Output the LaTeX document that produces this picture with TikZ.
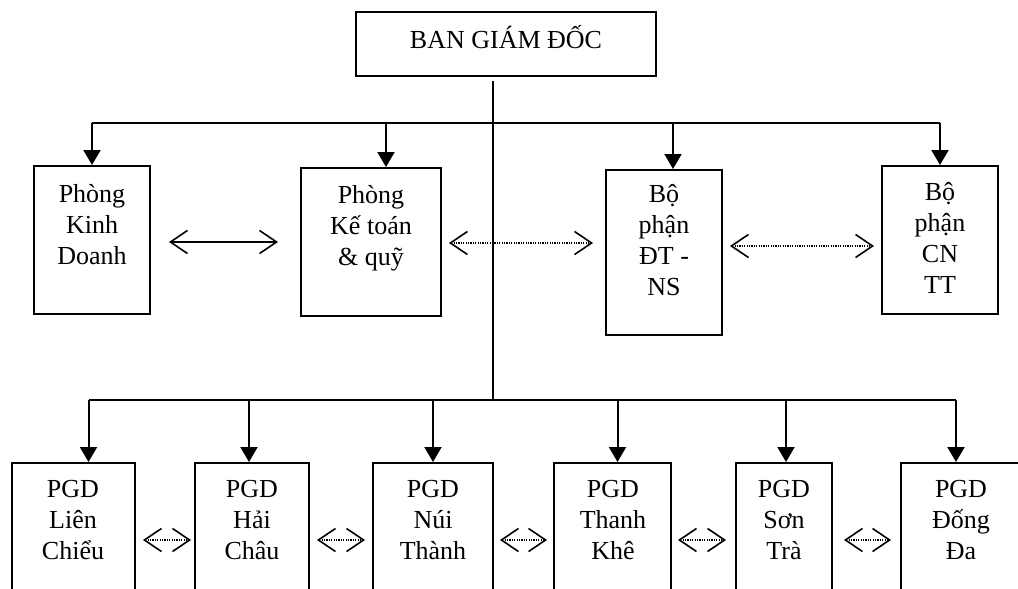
\documentclass[tikz,border=0pt]{standalone}
\usepackage{fontspec}
\setmainfont{Liberation Serif}
\usetikzlibrary{arrows.meta,fit}
\begin{document}
\begin{tikzpicture}[x=0.5pt,y=-0.5pt,
  box/.style={draw, line width=1pt, inner sep=0pt},
  txt/.style={inner sep=0pt, anchor=base, font={\fontsize{13pt}{15.5pt}\selectfont}},
  tree/.style={line width=1pt, -{Triangle[length=7.5pt,width=8.5pt]}},
  bus/.style={line width=1pt},
  link/.style={line width=0.8pt, {Straight Barb[length=8.5pt,width=11.5pt]}-{Straight Barb[length=8.5pt,width=11.5pt]}},
  dlink/.style={link, dash pattern=on 0.6pt off 0.6pt}]
\useasboundingbox (0,0) rectangle (1018,589);
\clip (0,0) rectangle (1018,589);
\fill[white] (0,0) rectangle (1018,589);
% top
\node[box, fit={(356,12)(656,76)}] (ban) {};
\node[txt] (bant) at (506,48) {BAN GIÁM ĐỐC};
% middle row
\node[box, fit={(34,166)(150,314)}] (kd) {};
\node[box, fit={(301,168)(441,316)}] (kt) {};
\node[box, fit={(606,170)(722,335)}] (dt) {};
\node[box, fit={(882,166)(998,314)}] (cn) {};
\node[txt] (kdt) at (92,202) {\parbox[t]{70pt}{\centering Phòng\\Kinh\\Doanh}};
\node[txt] (ktt) at (371,203) {\parbox[t]{70pt}{\centering Phòng\\Kế toán\\\& quỹ}};
\node[txt] (dtt) at (664,202) {\parbox[t]{60pt}{\centering Bộ\\phận\\ĐT -\\NS}};
\node[txt] (cnt) at (940,200) {\parbox[t]{60pt}{\centering Bộ\\phận\\CN\\TT}};
% bottom row
\node[box, fit={(12,463)(135,620)}] (lc) {};
\node[box, fit={(195,463)(309,620)}] (hc) {};
\node[box, fit={(373,463)(493,620)}] (nt) {};
\node[box, fit={(554,463)(671,620)}] (tk) {};
\node[box, fit={(736,463)(832,620)}] (st) {};
\node[box, fit={(901,463)(1021,620)}] (dd) {};
\node[txt] (lct) at (73,497) {\parbox[t]{60pt}{\centering PGD\\Liên\\Chiểu}};
\node[txt] (hct) at (252,497) {\parbox[t]{60pt}{\centering PGD\\Hải\\Châu}};
\node[txt] (ntt) at (433,497) {\parbox[t]{60pt}{\centering PGD\\Núi\\Thành}};
\node[txt] (tkt) at (613,497) {\parbox[t]{60pt}{\centering PGD\\Thanh\\Khê}};
\node[txt] (stt) at (784,497) {\parbox[t]{60pt}{\centering PGD\\Sơn\\Trà}};
\node[txt] (ddt) at (961,497) {\parbox[t]{60pt}{\centering PGD\\Đống\\Đa}};
% trunk and buses
\coordinate (t0) at (493,81);
\coordinate (b1) at (493,123);
\coordinate (b2) at (493,400);
\draw[bus] (t0) -- (b2);
\draw[bus] (kd.north |- b1) -- (cn.north |- b1);
\draw[tree] (kd.north |- b1) -- (kd.north);
\draw[tree] ([xshift=7.5pt]kt.north |- b1) -- ([xshift=7.5pt]kt.north);
\draw[tree] ([xshift=4.5pt]dt.north |- b1) -- ([xshift=4.5pt]dt.north);
\draw[tree] (cn.north |- b1) -- (cn.north);
\draw[bus] ([xshift=7.5pt]lc.north |- b2) -- ([xshift=-2.5pt]dd.north |- b2);
\draw[tree] ([xshift=7.5pt]lc.north |- b2) -- ([xshift=7.5pt]lc.north);
\draw[tree] ([xshift=-1.5pt]hc.north |- b2) -- ([xshift=-1.5pt]hc.north);
\draw[tree] (nt.north |- b2) -- (nt.north);
\draw[tree] ([xshift=2.5pt]tk.north |- b2) -- ([xshift=2.5pt]tk.north);
\draw[tree] ([xshift=1pt]st.north |- b2) -- ([xshift=1pt]st.north);
\draw[tree] ([xshift=-2.5pt]dd.north |- b2) -- ([xshift=-2.5pt]dd.north);
% middle links
\draw[link, shorten <=9pt, shorten >=11pt] ([yshift=-1pt]kd.east) -- ([yshift=-1pt]kd.east -| kt.west);
\draw[dlink, shorten <=3.5pt, shorten >=6pt] ([yshift=-0.5pt]kt.east) -- ([yshift=-0.5pt]kt.east -| dt.west);
\draw[dlink, shorten <=3.5pt, shorten >=3.5pt] ([yshift=3.25pt]dt.east) -- ([yshift=3.25pt]dt.east -| cn.west);
% bottom links
\draw[dlink, shorten <=3.5pt, shorten >=1.5pt] ([yshift=0.75pt]lc.east) -- ([yshift=0.75pt]lc.east -| hc.west);
\draw[dlink, shorten <=3.5pt, shorten >=3.5pt] ([yshift=0.75pt]hc.east) -- ([yshift=0.75pt]hc.east -| nt.west);
\draw[dlink, shorten <=3pt, shorten >=3pt] ([yshift=0.75pt]nt.east) -- ([yshift=0.75pt]nt.east -| tk.west);
\draw[dlink, shorten <=3pt, shorten >=4.5pt] ([yshift=0.75pt]tk.east) -- ([yshift=0.75pt]tk.east -| st.west);
\draw[dlink, shorten <=5.5pt, shorten >=4.5pt] ([yshift=0.75pt]st.east) -- ([yshift=0.75pt]st.east -| dd.west);
\end{tikzpicture}
\end{document}
